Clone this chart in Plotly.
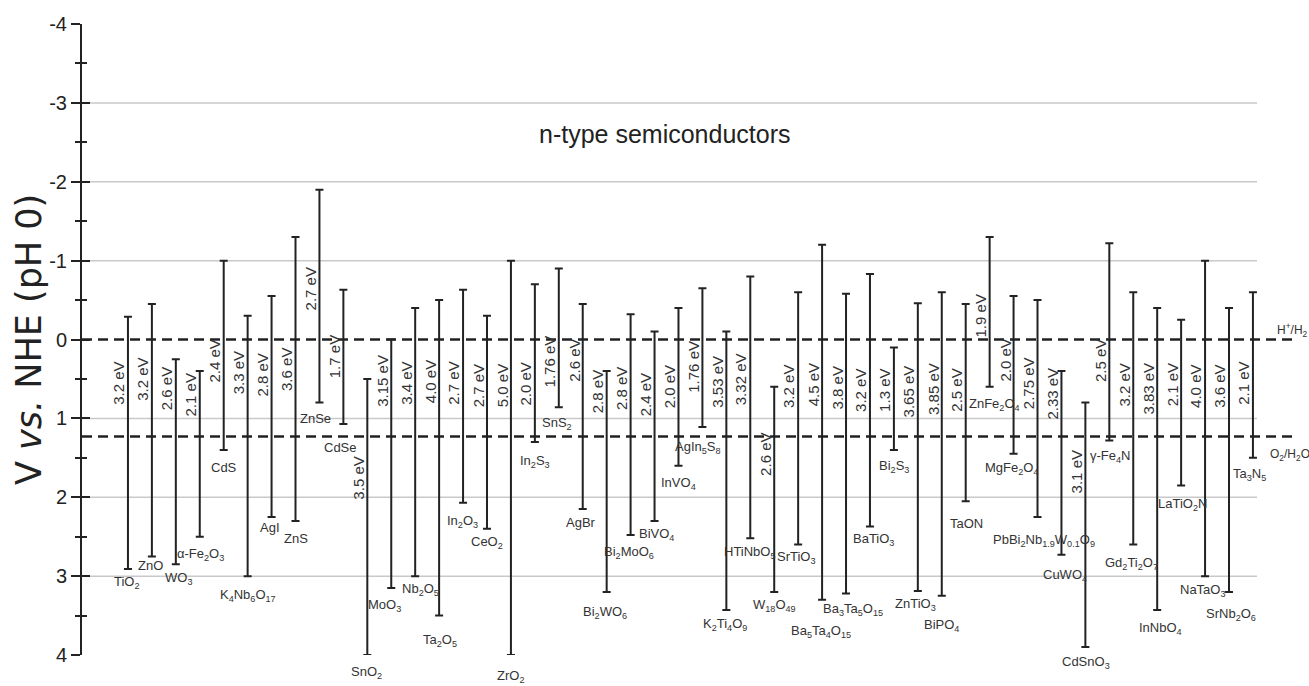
import plotly.graph_objects as go

# Semiconductors (n-type) with conduction-band edge (V vs. NHE, pH 0) and band gap (eV)
materials = [
    "TiO<sub>2</sub>", "ZnO", "WO<sub>3</sub>", "α-Fe<sub>2</sub>O<sub>3</sub>", "CdS",
    "K<sub>4</sub>Nb<sub>6</sub>O<sub>17</sub>", "AgI", "ZnS", "ZnSe", "CdSe",
    "SnO<sub>2</sub>", "MoO<sub>3</sub>", "Nb<sub>2</sub>O<sub>5</sub>", "Ta<sub>2</sub>O<sub>5</sub>",
    "In<sub>2</sub>O<sub>3</sub>", "CeO<sub>2</sub>", "ZrO<sub>2</sub>", "In<sub>2</sub>S<sub>3</sub>",
    "SnS<sub>2</sub>", "AgBr", "Bi<sub>2</sub>WO<sub>6</sub>", "Bi<sub>2</sub>MoO<sub>6</sub>",
    "BiVO<sub>4</sub>", "InVO<sub>4</sub>", "AgIn<sub>5</sub>S<sub>8</sub>",
    "K<sub>2</sub>Ti<sub>4</sub>O<sub>9</sub>", "HTiNbO<sub>5</sub>", "W<sub>18</sub>O<sub>49</sub>",
    "SrTiO<sub>3</sub>", "Ba<sub>5</sub>Ta<sub>4</sub>O<sub>15</sub>", "Ba<sub>3</sub>Ta<sub>5</sub>O<sub>15</sub>",
    "BaTiO<sub>3</sub>", "Bi<sub>2</sub>S<sub>3</sub>", "ZnTiO<sub>3</sub>", "BiPO<sub>4</sub>", "TaON",
    "ZnFe<sub>2</sub>O<sub>4</sub>", "MgFe<sub>2</sub>O<sub>4</sub>",
    "PbBi<sub>2</sub>Nb<sub>1.9</sub>W<sub>0.1</sub>O<sub>9</sub>", "CuWO<sub>4</sub>", "CdSnO<sub>3</sub>",
    "γ-Fe<sub>4</sub>N", "Gd<sub>2</sub>Ti<sub>2</sub>O<sub>7</sub>", "InNbO<sub>4</sub>",
    "LaTiO<sub>2</sub>N", "NaTaO<sub>3</sub>", "SrNb<sub>2</sub>O<sub>6</sub>", "Ta<sub>3</sub>N<sub>5</sub>",
]

cb_edge = [
    -0.29, -0.45, 0.25, 0.40, -1.00, -0.30, -0.55, -1.30, -1.90, -0.63,
    0.50, 0.00, -0.40, -0.50, -0.63, -0.30, -1.00, -0.70, -0.90, -0.45,
    0.40, -0.32, -0.10, -0.40, -0.65, -0.10, -0.80, 0.60, -0.60, -1.20,
    -0.58, -0.83, 0.10, -0.46, -0.60, -0.45, -1.30, -0.55, -0.50, 0.40,
    0.80, -1.22, -0.60, -0.40, -0.25, -1.00, -0.40, -0.60,
]

band_gap = [
    3.2, 3.2, 2.6, 2.1, 2.4, 3.3, 2.8, 3.6, 2.7, 1.7,
    3.5, 3.15, 3.4, 4.0, 2.7, 2.7, 5.0, 2.0, 1.76, 2.6,
    2.8, 2.8, 2.4, 2.0, 1.76, 3.53, 3.32, 2.6, 3.2, 4.5,
    3.8, 3.2, 1.3, 3.65, 3.85, 2.5, 1.9, 2.0, 2.75, 2.33,
    3.1, 2.5, 3.2, 3.83, 2.1, 4.0, 3.6, 2.1,
]

# Water redox reference potentials
redox_levels = [0.0, 1.23]
redox_names = ["H<sup>+</sup>/H<sub>2</sub>", "O<sub>2</sub>/H<sub>2</sub>O"]

y_ticks = [-4, -3, -2, -1, 0, 1, 2, 3, 4]
y_tick_text = ["-4", "-3", "-2", "-1", "0", "1", "2", "3", "4"]
grid_levels = [-3, -2, -1, 1, 2, 3]

# Placement of the text beside each bar (gap label centre on the potential axis,
# name label offset below the valence-band end, in pixels)
gap_label_at = [
    0.55, 0.50, 0.62, 0.70, 0.27, 0.42, 0.45, 0.38, -0.64, 0.22,
    1.76, 0.52, 0.56, 0.54, 0.56, 0.58, 0.58, 0.56, 0.28, 0.26,
    0.66, 0.62, 0.70, 0.60, 0.34, 0.53, 0.50, 1.46, 0.60, 0.58,
    0.62, 0.64, 0.64, 0.66, 0.63, 0.64, -0.30, 0.26, 0.56, 0.68,
    1.68, 0.27, 0.58, 0.62, 0.58, 0.60, 0.60, 0.55,
]
name_drop = [
    13, 9, 14, 18, 18, 19, 11, 18, 16, 24,
    17, 18, 13, 25, 19, 14, 21, 19, 16, 13,
    21, 17, 14, 18, 20, 14, 14, 14, 13, 32,
    16, 13, 17, 13, 30, 22, 18, 15, 24, 21,
    15, 16, 19, 18, 19, 14, 23, 17,
]
name_shift = [
    -1, -1, 3, 1, 0, 0, -2, 0, -4, -3,
    -1, -7, 5, 1, -1, 0, 0, 0, -2, -2,
    -2, -2, 2, 0, -4, -1, 0, 0, -2, -1,
    7, 4, 0, -2, 0, 1, 5, -2, 6, 4,
    1, 1, -2, 3, 1, -2, 2, -3,
]

label_font = "Liberation Sans, Arial, sans-serif"
ink = "#222222"

positions = list(range(len(materials)))
vb_edge = [c + g for c, g in zip(cb_edge, band_gap)]


def gap_text(v):
    s = f"{v:.2f}"
    if s.endswith("0"):
        s = s[:-1]
    return f"{s} eV"


fig = go.Figure()

# Each band is a capped vertical span from the CB edge down to the VB edge
fig.add_trace(go.Scatter(
    x=positions,
    y=cb_edge,
    mode="markers",
    marker=dict(size=2, color="rgba(0,0,0,0)"),
    error_y=dict(
        type="data", symmetric=False,
        array=band_gap, arrayminus=[0] * len(band_gap),
        width=4, thickness=2, color=ink,
    ),
    hoverinfo="skip",
    showlegend=False,
    yaxis="y",
))
# Empty companion trace so the inner-tick axis is laid out
fig.add_trace(go.Scatter(x=[None], y=[None], yaxis="y2", showlegend=False,
                         hoverinfo="skip"))

shapes = []
for lvl in grid_levels:
    shapes.append(dict(
        type="line", xref="paper", yref="y",
        x0=0, x1=1, y0=lvl, y1=lvl,
        line=dict(color="#c9c9c9", width=1.5),
        layer="below",
    ))
for lvl in redox_levels:
    shapes.append(dict(
        type="line", xref="paper", yref="y",
        x0=0, x1=1.0306, y0=lvl, y1=lvl,
        line=dict(color=ink, width=2.5, dash="10px,6px"),
        layer="above",
    ))

annotations = []
for i in positions:
    annotations.append(dict(
        x=i, y=gap_label_at[i], xref="x", yref="y",
        text=gap_text(band_gap[i]), textangle=-90, showarrow=False,
        xshift=-9, font=dict(family=label_font, size=15, color="#333333"),
    ))
    annotations.append(dict(
        x=i, y=vb_edge[i], xref="x", yref="y",
        text=materials[i], showarrow=False,
        yanchor="middle", yshift=-name_drop[i], xshift=name_shift[i],
        font=dict(family=label_font, size=13, color="#333333"),
    ))

annotations.append(dict(
    x=1.0153, y=redox_levels[0], xref="paper", yref="y",
    text=redox_names[0], showarrow=False, xanchor="left", yshift=10,
    font=dict(family=label_font, size=12, color="#333333"),
))
annotations.append(dict(
    x=1.0095, y=redox_levels[1], xref="paper", yref="y",
    text=redox_names[1], showarrow=False, xanchor="left", yshift=-18,
    font=dict(family=label_font, size=12, color="#333333"),
))

annotations.append(dict(
    x=0.496, y=-2.61, xref="paper", yref="y",
    text="n-type semiconductors", showarrow=False,
    font=dict(family="Liberation Sans, Arial, sans-serif", size=25, color=ink),
))
annotations.append(dict(
    x=-0.0455, y=0.5, xref="paper", yref="paper",
    xanchor="center", yanchor="middle",
    text="V <i>vs.</i> NHE (pH 0)", textangle=-90, showarrow=False,
    font=dict(family="DejaVu Sans, sans-serif", size=35, color=ink),
))

minor_vals = [v + 0.5 for v in y_ticks[:-1]]

fig.update_layout(
    width=1309, height=686,
    margin=dict(l=82, r=52, t=24, b=31),
    paper_bgcolor="white", plot_bgcolor="white",
    showlegend=False,
    xaxis=dict(range=[-1.92, 47.17], visible=False, fixedrange=True),
    yaxis=dict(
        range=[4, -4], tickmode="array", tickvals=y_ticks, ticktext=y_tick_text,
        ticks="outside", ticklen=9, tickwidth=2, tickcolor=ink,
        showline=True, linewidth=2, linecolor=ink,
        showgrid=False, zeroline=False,
        tickfont=dict(family=label_font, size=20, color=ink),
        minor=dict(tickmode="array", tickvals=minor_vals, ticks="outside",
                   ticklen=5, tickwidth=2, tickcolor=ink, showgrid=False),
    ),
    yaxis2=dict(
        range=[4, -4], overlaying="y", anchor="x", side="left",
        tickmode="array", tickvals=y_ticks, ticks="inside", ticklen=8,
        tickwidth=2, tickcolor=ink, showticklabels=False,
        showline=False, showgrid=False, zeroline=False,
        minor=dict(tickmode="array", tickvals=minor_vals, ticks="inside",
                   ticklen=5, tickwidth=2, tickcolor=ink, showgrid=False),
    ),
    shapes=shapes,
    annotations=annotations,
)

fig.write_html("out.html")
